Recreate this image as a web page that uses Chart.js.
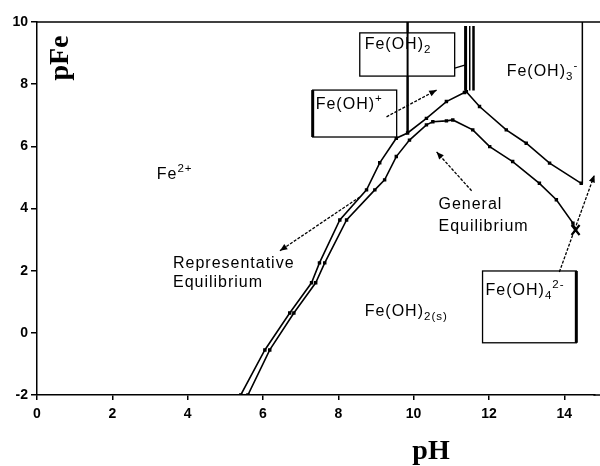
<!DOCTYPE html>
<html><head><meta charset="utf-8">
<script src="https://cdn.jsdelivr.net/npm/chart.js@4/dist/chart.umd.min.js"></script>
<style>html,body{margin:0;padding:0;background:#fff;overflow:hidden}#wrap{width:600px;height:466px;position:relative}</style>
</head><body><div id="wrap"><canvas id="c"></canvas></div>
<script>
// ---- data (pH, pFe) ----
const upperPH  = [5.41, 6.05, 6.71, 7.29, 7.50, 8.04, 8.75, 9.10, 9.54, 9.84, 10.34, 10.87, 11.35, 11.40, 11.75, 12.46, 12.99, 13.61, 14.45];
const upperPFe = [-2.0, -0.55, 0.64, 1.61, 2.25, 3.63, 4.60, 5.47, 6.26, 6.43, 6.90, 7.44, 7.73, 7.76, 7.28, 6.53, 6.10, 5.46, 4.81];
const lowerPH  = [5.60, 6.18, 6.82, 7.40, 7.64, 8.22, 8.97, 9.23, 9.54, 9.89, 10.34, 10.51, 10.87, 11.04, 11.57, 12.02, 12.63, 13.34, 13.79, 14.23, 14.30];
const lowerPFe = [-2.0, -0.55, 0.64, 1.61, 2.25, 3.63, 4.60, 4.92, 5.67, 6.20, 6.69, 6.79, 6.82, 6.85, 6.53, 5.99, 5.51, 4.81, 4.28, 3.53, 3.31];
const boundaryPH     = [9.84, 11.38, 11.49, 11.59, 14.48];
const boundaryTop    = [10.0, 9.87, 9.87, 9.87, 10.0];
const boundaryBottom = [6.43, 7.80, 7.80, 7.80, 4.80];
const xTickValues = [0, 2, 4, 6, 8, 10, 12, 14];
const yTickValues = [-2, 0, 2, 4, 6, 8, 10];

// ---- styling / annotation layout ----
const boundaryWidths = [2, 3, 1.5, 2.5, 1.5];
const FONT = '"Liberation Sans", Arial, sans-serif';

const toPts = (xs, ys) => xs.map((x, i) => ({x: x, y: ys[i]}));
const datasets = [
  {data: toPts(upperPH, upperPFe), showLine: true, borderColor: '#000', borderWidth: 1.6,
   pointRadius: 1.3, pointStyle: 'rect', pointBackgroundColor: '#000', pointBorderColor: '#000'},
  {data: toPts(lowerPH, lowerPFe), showLine: true, borderColor: '#000', borderWidth: 1.6,
   pointRadius: 1.3, pointStyle: 'rect', pointBackgroundColor: '#000', pointBorderColor: '#000'}
];
boundaryPH.forEach((x, i) => {
  datasets.push({data: [{x: x, y: boundaryTop[i]}, {x: x, y: boundaryBottom[i]}], showLine: true,
    borderColor: '#000', borderWidth: boundaryWidths[i], pointRadius: 0});
});

function rich(ctx, parts, x, y, size) {
  let cx = x;
  parts.forEach(p => {
    const t = p[0], m = p[1] || 'n';
    let fs = size, dy = 0;
    if (m === 'sub') { fs = size * 0.72; dy = size * 0.3; }
    if (m === 'sup') { fs = size * 0.72; dy = -size * 0.38; }
    ctx.font = fs + 'px ' + FONT;
    ctx.fillText(t, cx, y + dy);
    cx += ctx.measureText(t).width;
  });
}

const annot = {
  id: 'annot',
  afterDatasetsDraw(chart) {
    const ctx = chart.ctx, xs = chart.scales.x, ys = chart.scales.y, a = chart.chartArea;
    const X = v => xs.getPixelForValue(v), Y = v => ys.getPixelForValue(v);
    ctx.save();
    ctx.strokeStyle = '#000'; ctx.fillStyle = '#000';
    // top frame and x-axis line run to the edge of the picture
    ctx.lineWidth = 1.5;
    ctx.beginPath(); ctx.moveTo(a.left, a.top); ctx.lineTo(chart.width, a.top); ctx.stroke();
    ctx.beginPath(); ctx.moveTo(a.right - 1, a.bottom); ctx.lineTo(chart.width, a.bottom); ctx.stroke();
    // boxes
    const boxes = [
      {x0: 8.57, x1: 11.09, y0: 9.65, y1: 8.26, thick: null},
      {x0: 7.32, x1: 9.55, y0: 7.81, y1: 6.30, thick: 'left'},
      {x0: 11.83, x1: 14.32, y0: 1.99, y1: -0.32, thick: 'right'}
    ];
    boxes.forEach(b => {
      ctx.fillStyle = '#fff';
      ctx.fillRect(X(b.x0), Y(b.y0), X(b.x1) - X(b.x0), Y(b.y1) - Y(b.y0));
      ctx.lineWidth = 1.3;
      ctx.strokeRect(X(b.x0), Y(b.y0), X(b.x1) - X(b.x0), Y(b.y1) - Y(b.y0));
      ctx.lineWidth = 3;
      if (b.thick === 'left') { ctx.beginPath(); ctx.moveTo(X(b.x0), Y(b.y0)); ctx.lineTo(X(b.x0), Y(b.y1)); ctx.stroke(); }
      if (b.thick === 'right') { ctx.beginPath(); ctx.moveTo(X(b.x1), Y(b.y0)); ctx.lineTo(X(b.x1), Y(b.y1)); ctx.stroke(); }
    });
    // boundary line passes over the Fe(OH)2 box
    ctx.lineWidth = 2;
    ctx.beginPath(); ctx.moveTo(X(9.84), Y(10)); ctx.lineTo(X(9.84), Y(6.43)); ctx.stroke();
    // leader from Fe(OH)2 box
    ctx.lineWidth = 1.3;
    ctx.beginPath(); ctx.moveTo(X(11.09), Y(8.52)); ctx.lineTo(X(11.38), Y(8.62)); ctx.stroke();
    // texts
    ctx.fillStyle = '#000';
    ctx.textBaseline = 'middle'; ctx.textAlign = 'left';
    ctx.letterSpacing = '1px';
    const S = 16;
    rich(ctx, [['Fe'], ['2+', 'sup']], X(3.18), Y(5.08), S);
    rich(ctx, [['Fe(OH)'], ['2', 'sub']], X(8.70), Y(9.26), S);
    rich(ctx, [['Fe(OH)'], ['+', 'sup']], X(7.40), Y(7.33), S);
    rich(ctx, [['Fe(OH)'], ['3', 'sub'], ['-', 'sup']], X(12.47), Y(8.39), S);
    rich(ctx, [['Fe(OH)'], ['2(s)', 'sub']], X(8.70), Y(0.68), S);
    rich(ctx, [['Fe(OH)'], ['4', 'sub'], ['2-', 'sup']], X(11.91), Y(1.35), S);
    rich(ctx, [['General']], X(10.66), Y(4.12), S);
    rich(ctx, [['Equilibrium']], X(10.66), Y(3.41), S);
    rich(ctx, [['Representative']], X(3.61), Y(2.22), S);
    rich(ctx, [['Equilibrium']], X(3.61), Y(1.61), S);
    ctx.letterSpacing = '0px';
    // arrows
    const arrows = [
      [9.28, 6.95, 10.61, 7.81],
      [11.54, 4.57, 10.61, 5.82],
      [8.57, 4.37, 6.45, 2.64],
      [13.87, 1.96, 14.80, 5.08]
    ];
    arrows.forEach(ar => {
      const x0 = X(ar[0]), y0 = Y(ar[1]), x1 = X(ar[2]), y1 = Y(ar[3]);
      ctx.lineWidth = 1.3;
      ctx.setLineDash([3, 1.5]);
      ctx.beginPath(); ctx.moveTo(x0, y0); ctx.lineTo(x1, y1); ctx.stroke();
      ctx.setLineDash([]);
      const ang = Math.atan2(y1 - y0, x1 - x0), L = 8, w = 0.4;
      ctx.beginPath();
      ctx.moveTo(x1, y1);
      ctx.lineTo(x1 - L * Math.cos(ang - w), y1 - L * Math.sin(ang - w));
      ctx.lineTo(x1 - L * Math.cos(ang + w), y1 - L * Math.sin(ang + w));
      ctx.closePath(); ctx.fill();
    });
    // X mark at end of lower curve
    const mx = X(14.30), my = Y(3.31);
    ctx.lineWidth = 2.2;
    ctx.beginPath(); ctx.moveTo(mx - 4, my - 5); ctx.lineTo(mx + 4, my + 5);
    ctx.moveTo(mx + 4, my - 5); ctx.lineTo(mx - 4, my + 5); ctx.stroke();
    // axis titles
    ctx.font = 'bold 28px "Liberation Serif", "Times New Roman", serif';
    ctx.textAlign = 'center'; ctx.textBaseline = 'alphabetic';
    ctx.fillText('pH', 431, 459);
    ctx.save();
    ctx.translate(68, 58); ctx.rotate(-Math.PI / 2);
    ctx.fillText('pFe', 0, 0);
    ctx.restore();
    ctx.restore();
  }
};

new Chart(document.getElementById('c'), {
  type: 'scatter',
  data: {datasets: datasets},
  plugins: [annot],
  options: {
    responsive: true, maintainAspectRatio: false, animation: false,
    layout: {padding: {top: 22, right: 0, left: 0, bottom: 0}},
    plugins: {legend: {display: false}, tooltip: {enabled: false}},
    scales: {
      x: {
        type: 'linear', min: 0, max: 14.8,
        afterFit: s => { s.height = 71; },
        afterBuildTicks: s => { s.ticks = xTickValues.map(v => ({value: v})); },
        border: {display: true, color: '#000', width: 1.5},
        grid: {display: true, drawOnChartArea: false, drawTicks: true, tickLength: 5, color: '#000', lineWidth: 1.5},
        ticks: {color: '#000', padding: 6, font: {family: FONT, size: 14, weight: 'bold'}, callback: v => String(v), maxRotation: 0}
      },
      y: {
        type: 'linear', min: -2, max: 10,
        afterFit: s => { s.width = 37; },
        afterBuildTicks: s => { s.ticks = yTickValues.map(v => ({value: v})); },
        border: {display: true, color: '#000', width: 1.5},
        grid: {display: true, drawOnChartArea: false, drawTicks: true, tickLength: 6, color: '#000', lineWidth: 1.5},
        ticks: {color: '#000', padding: 3, font: {family: FONT, size: 14, weight: 'bold'}, callback: v => String(v)}
      }
    }
  }
});
</script></body></html>
